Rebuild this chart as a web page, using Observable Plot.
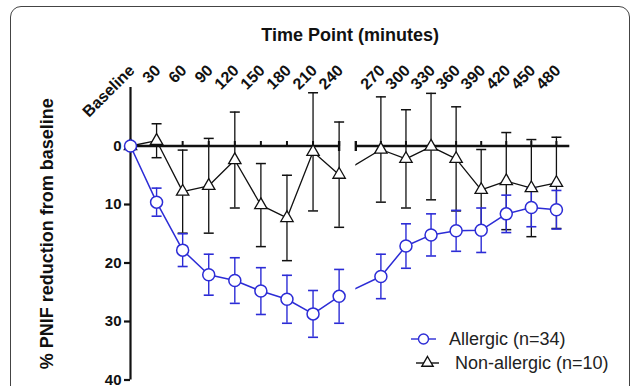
<!DOCTYPE html>
<html>
<head>
<meta charset="utf-8">
<script src="https://cdn.jsdelivr.net/npm/d3@7"></script>
<script src="https://cdn.jsdelivr.net/npm/@observablehq/plot@0.6"></script>
<style>
  html, body { margin: 0; padding: 0; background: #fff; }
  #wrap { position: relative; width: 630px; height: 386px; overflow: hidden; font-family: "Liberation Sans", Arial, sans-serif; }
  #frame { position: absolute; left: 10px; top: 6px; width: 619.5px; height: 440px; box-sizing: border-box;
           border: 1.5px solid #444; border-radius: 11px; }
  #chart { position: absolute; left: 0; top: 0; }
  .leg { position: absolute; display: flex; align-items: center; height: 24px; font-size: 18px; color: #222; white-space: nowrap; }
  .leg svg { display: block; }
</style>
</head>
<body>
<div id="wrap"><div id="frame"></div><div id="chart"></div></div>
<script>
// ---------------- data ----------------
const timeLabels = ["Baseline", "30", "60", "90", "120", "150", "180", "210", "240",
                    "270", "300", "330", "360", "390", "420", "450", "480"];
const minutes = [0, 30, 60, 90, 120, 150, 180, 210, 240, 270, 300, 330, 360, 390, 420, 450, 480];
const allergicMean = [0, 9.6, 17.8, 22.0, 23.0, 24.8, 26.2, 28.7, 25.7, 22.3, 17.1, 15.2, 14.5, 14.4, 11.6, 10.5, 10.9];
const allergicSD   = [0, 2.4, 2.8, 3.5, 3.9, 4.0, 4.1, 4.0, 4.6, 3.8, 3.8, 3.6, 3.5, 3.8, 3.2, 3.3, 3.3];
const nonAllergicMean = [0, -0.9, 7.8, 6.8, 2.4, 10.1, 12.3, 1.0, 4.9, 0.6, 2.2, 0.1, 2.2, 7.5, 6.0, 7.2, 6.3];
const nonAllergicSD   = [0, 2.9, 7.1, 8.1, 8.2, 7.1, 7.3, 10.1, 9.0, 9.0, 8.4, 9.1, 8.9, 6.9, 8.3, 8.3, 7.8];
const seriesNames = ["Allergic (n=34)", "Non-allergic (n=10)"];
const yTicks = [0, 10, 20, 30, 40];
const xTitle = "Time Point (minutes)";
const yTitle = "% PNIF reduction from baseline";

// ---------------- layout (broken x axis: 0–240 | 240–496) ----------------
const blue = "#2c2cd6";
const ink = "#111";
const breakMinute = 240;
const breakU = 8.64;          // start of right axis segment (axis units)
const rightScale = 0.9616;    // right segment is slightly compressed
const rightEndMinute = 496;
const xPos = m => m <= breakMinute ? m / 30 : breakU + (m - breakMinute) / 30 * rightScale;
const xMax = breakU + (rightEndMinute - breakMinute) / 30 * rightScale;

const rows = minutes.map((m, i) => ({
  m, u: xPos(m), label: timeLabels[i],
  a: allergicMean[i], asd: allergicSD[i],
  n: nonAllergicMean[i], nsd: nonAllergicSD[i]
}));
const bars = rows.filter(d => d.m > 0);

// custom symbols
const capSymbol = { draw(ctx, size) { const r = Math.sqrt(size / Math.PI); ctx.moveTo(-r, 0); ctx.lineTo(r, 0); } };
const tickUpSymbol = { draw(ctx, size) { const r = Math.sqrt(size / Math.PI); ctx.moveTo(0, 0); ctx.lineTo(0, -r); } };
const vBarSymbol = { draw(ctx, size) { const r = Math.sqrt(size / Math.PI); ctx.moveTo(0, -r); ctx.lineTo(0, r); } };

const axisSegments = [{x1: 0, x2: xPos(breakMinute)}, {x1: breakU, x2: xMax}];
const segEnds = [{u: xPos(breakMinute)}, {u: breakU}];

const chart = Plot.plot({
  width: 630,
  height: 386,
  marginLeft: 130,
  marginRight: 60.7,
  marginTop: 87,
  marginBottom: 6.5,
  style: { fontFamily: "'Liberation Sans', Arial, sans-serif", color: ink, background: "transparent", overflow: "visible" },
  x: { domain: [0, xMax], axis: null },
  y: { domain: [-10, 40], reverse: true, axis: null },
  marks: [
    // series lines
    Plot.line(rows, { x: "u", y: "n", stroke: ink, strokeWidth: 1.3 }),
    Plot.line(rows, { x: "u", y: "a", stroke: blue, strokeWidth: 1.5 }),
    // axis break gap
    Plot.rect([0], { x1: xPos(breakMinute), x2: breakU, fill: "white" }),
    // y axis
    Plot.ruleX([0], { y1: -10, y2: 40, stroke: ink, strokeWidth: 2.2 }),
    Plot.axisY({ ticks: yTicks, tickSize: 6, tickPadding: 3, fontSize: 15, fontWeight: "bold", label: null, strokeWidth: 2.2 }),
    // zero line (broken axis) with ticks
    Plot.ruleY(axisSegments, { y: 0, x1: "x1", x2: "x2", stroke: ink, strokeWidth: 2.6 }),
    Plot.dot(bars, { x: "u", y: 0, symbol: tickUpSymbol, r: 5, stroke: ink, strokeWidth: 2, fill: "none" }),
    Plot.dot(segEnds, { x: "u", y: 0, symbol: vBarSymbol, r: 5, stroke: ink, strokeWidth: 2.4, fill: "none" }),
    // non-allergic error bars
    Plot.ruleX(bars, { x: "u", y1: d => d.n - d.nsd, y2: d => d.n + d.nsd, stroke: ink, strokeWidth: 1.3 }),
    Plot.dot(bars, { x: "u", y: d => d.n - d.nsd, symbol: capSymbol, r: 5, stroke: ink, strokeWidth: 1.5, fill: "none" }),
    Plot.dot(bars, { x: "u", y: d => d.n + d.nsd, symbol: capSymbol, r: 5, stroke: ink, strokeWidth: 1.5, fill: "none" }),
    // allergic error bars
    Plot.ruleX(bars, { x: "u", y1: d => d.a - d.asd, y2: d => d.a + d.asd, stroke: blue, strokeWidth: 1.4 }),
    Plot.dot(bars, { x: "u", y: d => d.a - d.asd, symbol: capSymbol, r: 5, stroke: blue, strokeWidth: 1.6, fill: "none" }),
    Plot.dot(bars, { x: "u", y: d => d.a + d.asd, symbol: capSymbol, r: 5, stroke: blue, strokeWidth: 1.6, fill: "none" }),
    // markers
    Plot.dot(rows, { x: "u", y: "n", symbol: "triangle", r: 4.6, fill: "white", stroke: ink, strokeWidth: 1.3 }),
    Plot.dot(rows, { x: "u", y: "a", r: 6, fill: "white", stroke: blue, strokeWidth: 1.5 }),
    // x tick labels (top, rotated)
    Plot.text(rows, { x: "u", text: "label", frameAnchor: "top", rotate: -45, textAnchor: "end", lineAnchor: "bottom",
                      dx: 5, dy: -16, fontSize: 16, fontWeight: "bold", fill: ink }),
    // titles
    Plot.text([xTitle], { text: d => d, frameAnchor: "top", textAnchor: "middle", lineAnchor: "middle",
                          dy: -52, fontSize: 18, fontWeight: "bold", fill: ink }),
    Plot.text([yTitle], { text: d => d, frameAnchor: "left", textAnchor: "middle", lineAnchor: "middle",
                          rotate: -90, dx: -83.5, fontSize: 18, fontWeight: "bold", fill: ink })
  ]
});
document.getElementById("chart").appendChild(chart);

// ---------------- legend ----------------
const wrap = document.getElementById("wrap");
const legendSpec = [
  { name: seriesNames[0], color: blue, symbol: d3.symbolCircle, size: Math.PI * 25, left: 411, top: 327.3, w: 25, gap: 13 },
  { name: seriesNames[1], color: ink, symbol: d3.symbolTriangle, size: 55, left: 416, top: 351.3, w: 23, gap: 16 }
];
legendSpec.forEach(s => {
  const div = document.createElement("div");
  div.className = "leg";
  div.style.left = s.left + "px";
  div.style.top = s.top + "px";
  const svg = d3.create("svg").attr("width", s.w).attr("height", 24).style("margin-right", s.gap + "px");
  svg.append("line").attr("x1", 0).attr("x2", s.w).attr("y1", 12).attr("y2", 12).attr("stroke", s.color).attr("stroke-width", 1.4);
  svg.append("path").attr("transform", `translate(${s.w / 2},12)`).attr("d", d3.symbol(s.symbol, s.size)())
     .attr("fill", "white").attr("stroke", s.color).attr("stroke-width", 1.4);
  div.appendChild(svg.node());
  div.appendChild(document.createTextNode(s.name));
  wrap.appendChild(div);
});
</script>
</body>
</html>
